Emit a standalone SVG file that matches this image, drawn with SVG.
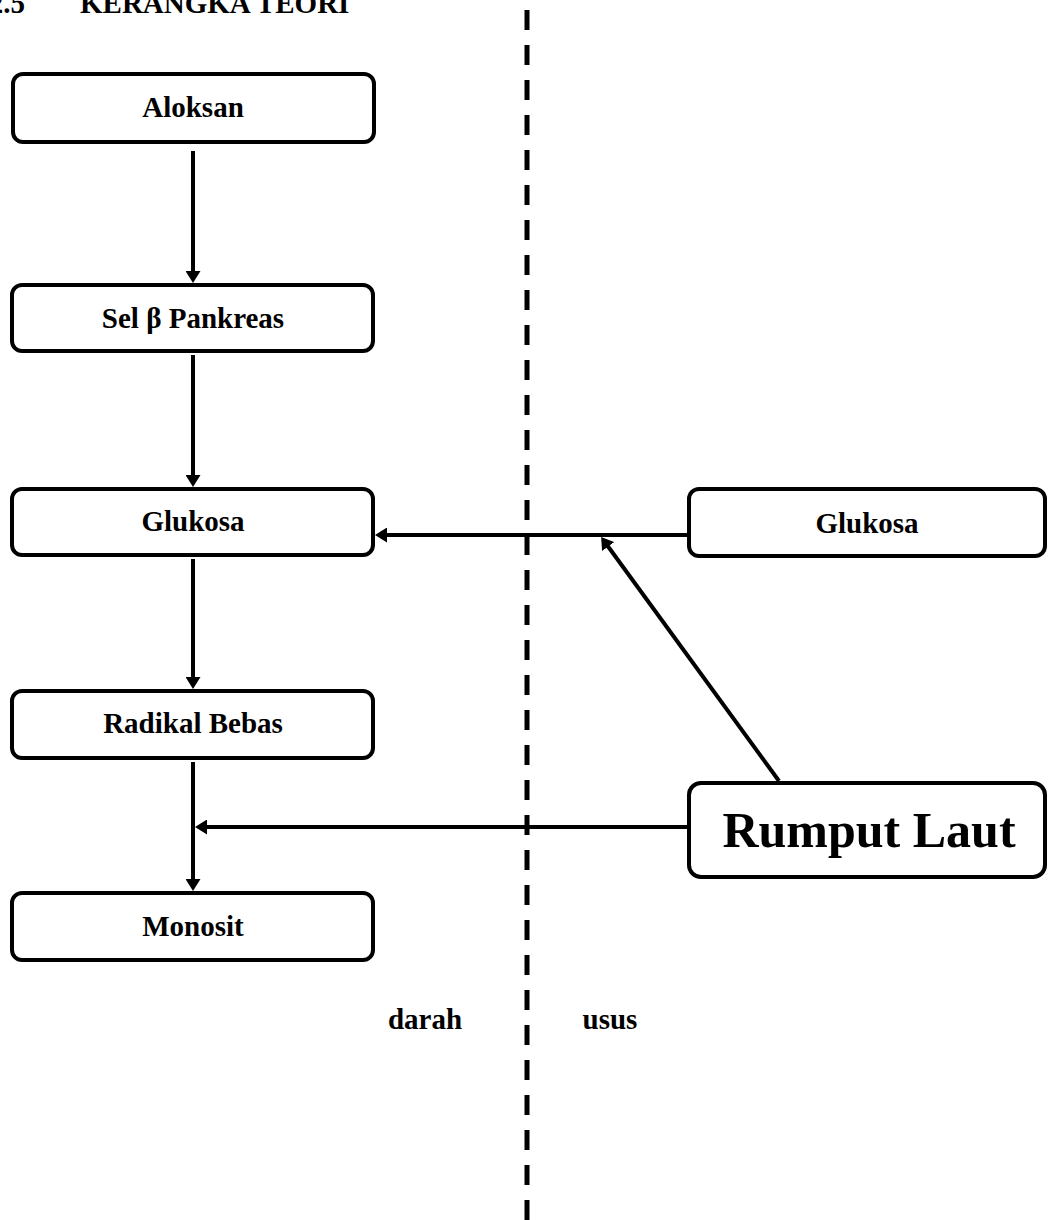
<svg xmlns="http://www.w3.org/2000/svg" width="1048" height="1220" viewBox="0 0 1048 1220">
<style>
.box{fill:#fff;stroke:#000;stroke-width:4}
.t{font-family:"Liberation Serif","Times New Roman",serif;font-weight:bold;font-size:29px;fill:#000;text-anchor:middle}
.big{font-size:50px}
.c{stroke:#000;stroke-width:4;fill:none}
</style>
<defs>
<marker id="ah" viewBox="0 0 12 15" markerWidth="12" markerHeight="15" refX="2" refY="7.5" orient="auto" markerUnits="userSpaceOnUse">
<path d="M0,0 L12,7.5 L0,15 z" fill="#000"/>
</marker>
</defs>
<rect width="1048" height="1220" fill="#fff"/>
<g id="title">
<text class="t" x="25" y="13" style="text-anchor:end">2.5</text>
<text class="t" x="80" y="13" style="text-anchor:start">KERANGKA TEORI</text>
</g>
<line id="divider" x1="527" y1="10" x2="527" y2="1220" stroke="#000" stroke-width="5" stroke-dasharray="20 15"/>
<g id="connectors">
<line class="c" x1="193" y1="151" x2="193" y2="273" marker-end="url(#ah)"/>
<line class="c" x1="193" y1="355" x2="193" y2="477" marker-end="url(#ah)"/>
<line class="c" x1="193" y1="559" x2="193" y2="679" marker-end="url(#ah)"/>
<line class="c" x1="193" y1="762" x2="193" y2="881" marker-end="url(#ah)"/>
<line class="c" x1="687" y1="535" x2="385" y2="535" marker-end="url(#ah)"/>
<line class="c" x1="687" y1="827" x2="205" y2="827" marker-end="url(#ah)"/>
<line class="c" x1="779" y1="781" x2="607" y2="545" marker-end="url(#ah)"/>
</g>
<g id="aloksan"><rect class="box" x="13" y="74" width="361" height="68" rx="10"/><text class="t" x="193" y="117">Aloksan</text></g>
<g id="sel-beta"><rect class="box" x="12" y="285" width="361" height="66" rx="10"/><text class="t" x="193" y="328">Sel β Pankreas</text></g>
<g id="glukosa-darah"><rect class="box" x="12" y="489" width="361" height="66" rx="10"/><text class="t" x="193" y="531">Glukosa</text></g>
<g id="radikal"><rect class="box" x="12" y="691" width="361" height="67" rx="10"/><text class="t" x="193" y="733">Radikal Bebas</text></g>
<g id="monosit"><rect class="box" x="12" y="893" width="361" height="67" rx="10"/><text class="t" x="193" y="936">Monosit</text></g>
<g id="glukosa-usus"><rect class="box" x="689" y="489" width="356" height="67" rx="10"/><text class="t" x="867" y="533">Glukosa</text></g>
<g id="rumput-laut"><rect class="box" x="689" y="783" width="356" height="94" rx="12"/><text class="t big" x="869" y="847">Rumput Laut</text></g>
<g id="labels">
<text class="t" x="425" y="1029">darah</text>
<text class="t" x="610" y="1029">usus</text>
</g>
</svg>
